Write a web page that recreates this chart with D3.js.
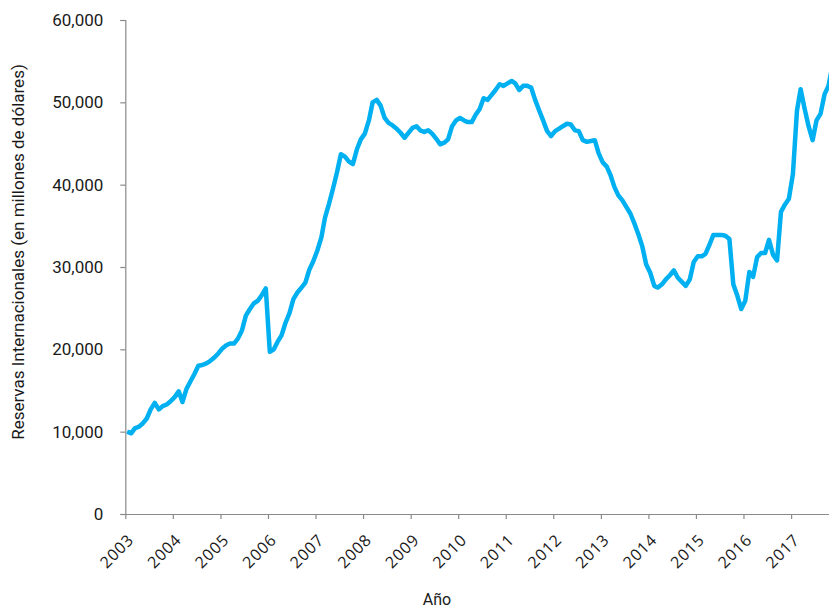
<!DOCTYPE html>
<html>
<head>
<meta charset="utf-8">
<script src="https://cdn.jsdelivr.net/npm/d3@7"></script>
<style>
  html, body { margin: 0; padding: 0; background: #fff; }
  svg { display: block; }
</style>
</head>
<body>
<svg id="chart" width="829" height="610"></svg>
<script>
// Reservas internacionales mensuales (millones de dólares), enero 2003 – noviembre 2017
const inicio = [2003, 0];
const reservas = [
  // 2003
  10000, 9800, 10400, 10600, 11000, 11600, 12700, 13500, 12700, 13100, 13300, 13700,
  // 2004
  14200, 14900, 13600, 15200, 16100, 17000, 18000, 18100, 18300, 18600, 19000, 19500,
  // 2005
  20100, 20500, 20700, 20700, 21300, 22300, 24100, 24900, 25600, 25900, 26600, 27400,
  // 2006
  19700, 20000, 20900, 21700, 23200, 24400, 26100, 26900, 27500, 28100, 29700, 30700,
  // 2007
  32000, 33600, 36000, 37700, 39500, 41500, 43700, 43400, 42800, 42500, 44300, 45500,
  // 2008
  46200, 47800, 50000, 50300, 49600, 48100, 47500, 47200, 46800, 46300, 45700, 46300,
  // 2009
  46900, 47100, 46600, 46400, 46600, 46200, 45600, 44900, 45100, 45500, 47100, 47800,
  // 2010
  48100, 47800, 47600, 47600, 48500, 49200, 50500, 50300, 50900, 51500, 52200, 52000,
  // 2011
  52300, 52600, 52300, 51500, 52000, 52000, 51800, 50300, 49000, 47800, 46500, 45900,
  // 2012
  46500, 46800, 47100, 47400, 47300, 46600, 46500, 45400, 45200, 45300, 45400, 43800,
  // 2013
  42700, 42200, 41200, 39700, 38700, 38100, 37300, 36500, 35300, 34000, 32500, 30300,
  // 2014
  29300, 27700, 27500, 27900, 28500, 29000, 29600, 28700, 28200, 27700, 28500, 30600,
  // 2015
  31300, 31300, 31600, 32700, 33900, 33900, 33900, 33800, 33400, 27900, 26500, 24900,
  // 2016
  25900, 29400, 28800, 31200, 31700, 31700, 33300, 31500, 30800, 36700, 37600, 38300,
  // 2017
  41300, 49000, 51600, 49200, 47100, 45400, 47800, 48600, 51000, 52000, 54500
];
const anios = [2003, 2004, 2005, 2006, 2007, 2008, 2009, 2010, 2011, 2012, 2013, 2014, 2015, 2016, 2017];
const yTicks = [0, 10000, 20000, 30000, 40000, 50000, 60000];
const yTitulo = "Reservas Internacionales (en millones de dólares)";
const xTitulo = "Año";

const datos = reservas.map((v, i) => ({ fecha: new Date(inicio[0], inicio[1] + i, 15), valor: v }));

const svg = d3.select("#chart");
const mLeft = 125.3, mRight = 829, mTop = 20, mBottom = 514;

const x = d3.scaleTime()
  .domain([new Date(2003, 0, 1), new Date(2017, 9, 19)])
  .range([mLeft, mRight]);
const y = d3.scaleLinear().domain([0, 60000]).range([mBottom, mTop]);

const axisColor = "#8a8a8a";

// Y axis
const gy = svg.append("g")
  .attr("transform", `translate(${mLeft},0)`)
  .call(d3.axisLeft(y).tickValues(yTicks).tickFormat(d3.format(",")).tickSize(5).tickPadding(17));
gy.select(".domain").attr("stroke", axisColor).attr("stroke-width", 1.2);
gy.selectAll(".tick line").attr("stroke", axisColor).attr("stroke-width", 1.2);
gy.selectAll(".tick text")
  .attr("fill", "#1a1a1a")
  .style("font-family", "Roboto, 'Noto Sans', sans-serif")
  .style("font-size", "17px");

// X axis
const gx = svg.append("g")
  .attr("transform", `translate(0,${mBottom})`)
  .call(d3.axisBottom(x)
    .tickValues(anios.map(a => new Date(a, 0, 1)))
    .tickFormat(d3.timeFormat("%Y"))
    .tickSize(5).tickSizeOuter(0));
gx.select(".domain").attr("stroke", axisColor).attr("stroke-width", 1.2);
gx.selectAll(".tick line").attr("stroke", axisColor).attr("stroke-width", 1.2);
gx.selectAll(".tick text")
  .attr("fill", "#1a1a1a")
  .attr("x", 0).attr("y", 0).attr("dy", null)
  .attr("text-anchor", "end")
  .attr("transform", "translate(9,27) rotate(-45)")
  .style("font-family", "'Open Sans', 'Noto Sans', sans-serif")
  .style("font-size", "16px")
  .style("letter-spacing", "0.8px");

// Line
svg.append("clipPath").attr("id", "clip")
  .append("rect").attr("x", mLeft).attr("y", 0).attr("width", mRight - mLeft).attr("height", mBottom);

const linea = d3.line().x(d => x(d.fecha)).y(d => y(d.valor));
svg.append("path")
  .datum(datos)
  .attr("clip-path", "url(#clip)")
  .attr("fill", "none")
  .attr("stroke", "#00b0f0")
  .attr("stroke-width", 4.5)
  .attr("stroke-linejoin", "round")
  .attr("stroke-linecap", "butt")
  .attr("d", linea);

// Titles
svg.append("text")
  .attr("transform", "translate(24,252) rotate(-90)")
  .attr("text-anchor", "middle")
  .attr("fill", "#1a1a1a")
  .style("font-family", "Roboto, 'Noto Sans', sans-serif")
  .style("font-size", "17px")
  .text(yTitulo);

svg.append("text")
  .attr("x", 437).attr("y", 605)
  .attr("text-anchor", "middle")
  .attr("fill", "#1a1a1a")
  .style("font-family", "Roboto, 'Noto Sans', sans-serif")
  .style("font-size", "16px")
  .text(xTitulo);
</script>
</body>
</html>
